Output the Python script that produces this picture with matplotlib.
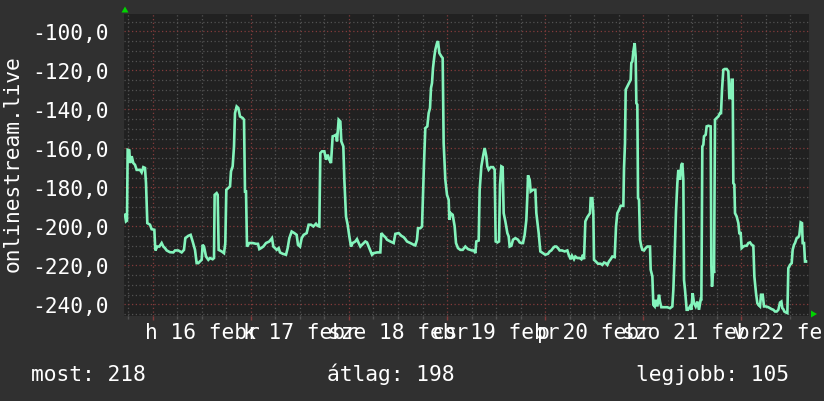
import matplotlib
matplotlib.use("Agg")
import matplotlib.pyplot as plt
import numpy as np
from matplotlib import transforms
from matplotlib.patches import Polygon

# ---- data: hours since 16 Feb 00:00, rank (plotted negative) ----
hours = [
    -6.86, -6.61, -6.37, -6.2, -5.8, -5.63, -5.22, -4.82, -4.41, -4.0, -3.18, -2.78, -2.37, -1.96, -1.71, -1.39,
    -0.73, -0.33, 0.33, 0.57, 1.06, 1.55, 2.12, 2.53, 2.94, 3.35, 4.16, 4.98, 5.39, 6.2, 7.02, 7.59, 7.92, 8.65,
    9.22, 9.71, 10.29, 10.69, 11.1, 11.51, 11.92, 12.16, 12.49, 12.98, 13.55, 13.96, 14.61, 14.94, 15.1, 15.59,
    15.84, 16.08, 16.82, 17.39, 17.71, 17.96, 18.45, 18.86, 19.1, 19.51, 19.84, 20.08, 20.49, 20.9,
    21.31, 21.96, 22.29, 22.53, 22.78, 23.02, 23.59, 24.41, 25.22, 25.71, 26.04, 26.45, 27.02, 27.67, 28.49,
    29.14, 29.47, 29.88, 30.29, 30.78, 31.1, 31.76, 32.57, 32.98, 33.39, 33.96, 34.61, 35.18, 35.51, 36.0, 36.41,
    36.9, 37.63, 38.12, 38.69, 39.27, 39.92, 40.33, 40.73, 40.98, 41.39, 41.96, 42.37, 42.78, 43.18, 43.59, 44.0,
    44.41, 44.82, 45.06, 45.47, 45.88, 46.12, 46.61, 46.86, 47.27, 47.67, 48.08, 48.49, 48.9, 49.55,
    49.96, 50.37, 50.78, 51.18, 52.0, 52.41, 52.82, 53.22, 53.63, 54.04, 54.86, 55.67, 55.92, 56.49, 56.9, 57.31,
    58.12, 58.94, 59.35, 60.16, 60.82, 61.39, 61.8, 62.2, 63.02, 63.84, 64.24, 64.65, 64.9, 65.47, 65.88, 66.12,
    66.37, 66.69, 67.18, 67.51, 67.84, 68.08, 68.33, 68.57, 68.9, 69.14, 69.55, 69.8, 70.12, 70.61, 70.94, 71.18,
    71.59, 72.0, 72.41, 72.57, 72.9, 73.39, 73.88, 74.2, 74.69, 75.27, 75.84, 76.49, 77.14, 77.71, 78.12,
    78.61, 78.94, 79.18, 79.76, 80.0, 80.41, 80.82, 81.22, 81.63, 81.88, 82.2, 82.69, 83.27, 83.67, 83.92, 84.33,
    84.74, 84.98, 85.31, 85.63, 85.88, 86.29, 86.78, 87.1, 87.35, 87.76, 88.16, 88.74, 89.39, 89.8, 90.2, 90.61,
    91.02, 91.43, 91.67, 91.84, 92.25, 92.49, 93.06, 93.63, 93.88, 94.45, 94.86, 95.51, 96.08, 96.74, 97.14,
    97.55, 97.96, 98.37, 98.78, 99.18, 99.59, 100.16, 100.82, 101.47, 101.8, 102.29, 102.61, 103.1, 103.43,
    103.92, 104.49, 104.9, 105.31, 105.55, 105.88,
    106.37, 106.78, 107.02, 107.19, 107.59, 107.84, 108.0, 108.41, 108.98, 109.63, 110.04, 110.45, 110.86,
    111.27, 111.67, 112.08, 112.49, 113.06, 113.39, 113.71, 114.12, 114.53, 115.18, 115.35, 115.59, 115.76,
    116.16, 116.57, 116.98, 117.14, 117.39, 117.63, 117.96, 118.2, 118.37, 118.61, 118.78, 119.02, 119.27,
    119.59, 119.84, 120.25, 120.65, 121.06, 121.71, 121.88, 122.29, 122.53, 122.86, 123.1, 123.51, 123.92,
    124.16, 124.49, 125.14, 125.96, 126.61, 127.18, 127.43, 127.76, 128.08, 128.41, 128.65, 129.06, 129.39,
    129.63, 129.88, 130.04, 130.29, 130.69, 131.02, 131.51, 131.84, 132.16, 132.49, 132.9, 133.31, 133.71,
    134.12, 134.29,
    134.53, 134.78, 134.94, 135.35, 135.59, 136.0, 136.57, 136.74, 136.9, 137.23, 137.39, 137.63, 138.04,
    138.45, 138.86, 139.1, 139.35, 139.67, 140.0, 140.49, 140.9, 141.14, 141.47, 141.71, 141.96, 142.12,
    142.37, 142.53, 142.94, 143.35, 143.59, 143.92, 144.16, 144.57, 144.98, 145.39, 145.8, 146.21, 146.61,
    147.02, 147.27, 147.67, 148.0, 148.25, 148.65, 148.9, 149.31, 149.63, 150.12, 150.69, 151.1, 151.51,
    151.92, 152.33, 152.74, 153.14, 153.55, 153.88, 154.12, 154.37, 154.61, 155.02, 155.35, 155.59, 156.0,
    156.41, 156.65, 156.98, 157.23, 157.63, 158.04, 158.29, 158.61, 158.94, 159.1, 159.43, 159.67, 159.92,
]
rank = [
    -194, -197.4, -197, -160.7, -161, -167.5, -164, -167.5, -168.4, -171, -171, -172.3, -169.6, -170, -177.8, -198.3,
    -199.1, -201.4, -201.7, -212.3, -210.3, -210.3, -208.5, -210.3, -211.1, -212.3, -213.2, -213.3, -212.3, -212.3,
    -213.3, -212, -206, -204.8, -204.3, -207.7, -212, -218.8, -218.8, -217.9, -217.1, -209.4, -210.3, -215.4,
    -217.1, -216.2, -216.8, -216.2, -183.8, -182.9, -183.8, -212, -212.8, -213.7, -208.5, -181.2, -180.3, -179.5,
    -171.8, -169.2, -159, -141.9, -138.5, -139.3,
    -143.6, -144.4, -145.3, -182.1, -182.1, -210.3, -208.5, -208.5, -208.9, -208.9, -211.6, -211.1, -210.3,
    -208.5, -207.7, -206, -210.3, -211.1, -212, -211.1, -213.3, -214, -214.5, -211.1, -206, -202.6, -203.4,
    -204.3, -209.4, -210.3, -206, -204.3, -203.4, -199.1, -199.1, -200, -198.6, -199.7, -200, -162.4, -161.5,
    -161.5, -165.8, -163.2, -165.8, -167.5, -153.8, -153.5, -153, -156.4, -145.3, -146.2, -156.4, -159, -176.1,
    -194.9, -199.1, -205.1, -210.3, -208.5, -207.7,
    -206.5, -208.5, -210.3, -209.4, -207.7, -208.2, -210.3, -212.3, -214.5, -213.7, -213.3, -213.3, -203.4,
    -204.8, -205.5, -206.8, -207.7, -208.5, -203.8, -203.4, -204.8, -205.5, -206.5, -207.7, -208.5, -209.4,
    -209.7, -206.8, -200.9, -200.9, -200, -183.8, -167.5, -149.6, -148.7, -141.9, -139.3, -129.1, -126.5,
    -118.8, -112.8, -109.4, -106, -105, -111.1, -112.8, -113.7, -157.3, -176.1, -183.8, -186.3, -196.6, -193.2,
    -194, -200, -208.5, -211.1, -212, -212, -210.3, -211.6, -212, -212.3,
    -212.3, -213.7, -207.7, -207.2, -181.2, -169.2, -164.1, -159.8, -164.1, -169.2, -170.9, -169.6, -169.6,
    -170.9, -207.7, -208.2, -207.7, -178.6, -169.2, -169.6, -193.2, -197.4, -203.4, -205.1, -210.3, -209.9,
    -206.8, -206, -206.8, -208.2, -208.5, -208.5, -204.3, -196.6, -184.6, -173.8, -176.1, -182.1, -181.2,
    -181.2, -193.2, -203.4, -212.8, -213.7, -214.5, -214, -212.8, -212.3, -211.1, -210.3, -210.3, -211.1,
    -212.3, -212.3, -212.8, -212.3, -214.5, -216.8, -215, -216.8, -215.4, -216.2, -216.2, -216.8, -214.5,
    -216.8, -197.4,
    -195.2, -194, -193.2, -185.5, -185.5, -193.2, -217.1, -217.9, -219.1, -219.1, -219.7, -218.5, -218.8,
    -219.7, -217.9, -216.8, -215.4, -215.7, -200, -193.2, -191.5, -189.4, -189.4, -170.1, -157.3, -129.9,
    -128.2, -126.5, -124.8, -116.2, -115.4, -110.3, -106, -112.8, -136.8, -137.6, -185.5, -186.3, -206.8,
    -210.3, -212, -212.3, -211.1, -210.3, -210.3, -222.2, -225.6, -240.2, -241, -237.6, -241, -235,
    -238.5, -241.4, -241.4, -241.4, -241.9, -241, -232.5, -213.7, -192.3, -177.8, -171, -176.1, -168.4,
    -167.5, -176.1, -227.4, -232.5, -242.7, -242.7, -241, -242.7, -234.2, -239.3, -241, -238.5, -242.7,
    -237.6, -238,
    -159, -158.1, -153.8, -153, -148.7, -148.4, -148.7, -220.5, -230.8, -220.5, -223.9, -145.3, -144.4,
    -143.6, -141.9, -141.9, -129.9, -119.7, -119.3, -119.3, -120.5, -134.2, -134.2, -124.8, -124.8, -177.8,
    -178.6, -193.2, -194.9, -198.3, -203.4, -203.4, -211.1, -210.3, -209.9, -209.9, -208.5, -208.2, -209.4,
    -209.9, -225.6, -234.2, -239.3, -240.2, -241, -235, -235, -241, -241, -241.4, -241.9, -242.4,
    -242.7, -243.6, -243.6, -242.7, -239, -238.5, -241.9, -242.4, -243.6, -244.1, -244.4, -221.4, -219.7,
    -218.8, -212, -209.4, -208.5, -206, -205.5, -204.3, -197.9, -198.3, -208.5, -208.5, -218, -218,
]

day_label_hours = [12, 36, 60, 84, 108, 132, 156]
day_labels = ["h 16 febr", "k 17 febr", "sze 18 febr", "cs 19 febr", "p 20 febr", "szo 21 febr", "v 22 febr"]
y_major = [-100, -120, -140, -160, -180, -200, -220, -240]
summary_names = ["most", "átlag", "legjobb"]
summary_values = [218, 198, 105]
y_title = "onlinestream.live"

# ---- style ----
W, H = 824, 402
BG = "#303030"
PLOT_BG = "#212121"
LINE = "#84f4bc"
MAJ_GRID = "#833b3b"
MIN_GRID = "#525252"
TXT = "#ffffff"
FONT = "DejaVu Sans Mono"
FS = 15.3

fig = plt.figure(figsize=(W / 100, H / 100), dpi=100, facecolor=BG)
ax = fig.add_axes([124 / W, 1 - 317 / H, (809 - 124) / W, (317 - 15) / H])
ax.set_facecolor(PLOT_BG)

ax.plot(hours, rank, color=LINE, lw=1.9, zorder=3, solid_joinstyle="miter")

ax.set_xlim(-7.1, 160.65)
ax.set_ylim(-245.9, -91.1)

ax.set_xticks(np.arange(0, 161, 24))
ax.set_xticks(np.arange(-6, 161, 6), minor=True)
ax.set_xticklabels([])
ax.set_yticks(y_major)
ax.set_yticks(np.arange(-245, -90, 5), minor=True)
ax.set_yticklabels([f"{v:.1f}".replace(".", ",") for v in y_major],
                   fontfamily=FONT, fontsize=FS, color=TXT)

ax.set_axisbelow(True)
dots = (0, (1, 2))
ax.grid(which="major", color=MAJ_GRID, linestyle=dots, linewidth=0.9)
ax.grid(which="minor", color=MIN_GRID, linestyle=dots, linewidth=0.9)

ax.tick_params(axis="y", which="both", length=0, pad=11)
ax.tick_params(axis="x", which="major", length=3, color=MAJ_GRID, width=1)
ax.tick_params(axis="x", which="minor", length=2, color=MIN_GRID, width=1)
for s in ax.spines.values():
    s.set_visible(False)

# day labels centred at noon
trans = transforms.offset_copy(ax.get_xaxis_transform(), fig=fig, x=0, y=-4.5, units="points")
for hx, lab in zip(day_label_hours, day_labels):
    ax.text(hx, 0, lab, transform=trans, ha="center", va="top",
            fontfamily=FONT, fontsize=FS, color=TXT, clip_on=False)

# vertical title
fig.text(13 / W, 1 - 164 / H, y_title, rotation=90, ha="center", va="center",
         fontfamily=FONT, fontsize=FS, color=TXT)

# summary line
for xpix, name, val in zip([31, 327, 636], summary_names, summary_values):
    fig.text(xpix / W, 1 - 381 / H, f"{name}: {val}", ha="left", va="baseline",
             fontfamily=FONT, fontsize=FS, color=TXT)

# axis arrows
def fp(x, y):
    return (x / W, 1 - y / H)

fig.patches.append(Polygon([fp(121.5, 13.5), fp(128.5, 13.5), fp(125, 7.5)], closed=True,
                           transform=fig.transFigure, facecolor="#00d400", edgecolor="none"))
fig.patches.append(Polygon([fp(811, 311.5), fp(811, 318.5), fp(817, 315)], closed=True,
                           transform=fig.transFigure, facecolor="#00d400", edgecolor="none"))

fig.savefig("out.png", dpi=100, facecolor=BG)
